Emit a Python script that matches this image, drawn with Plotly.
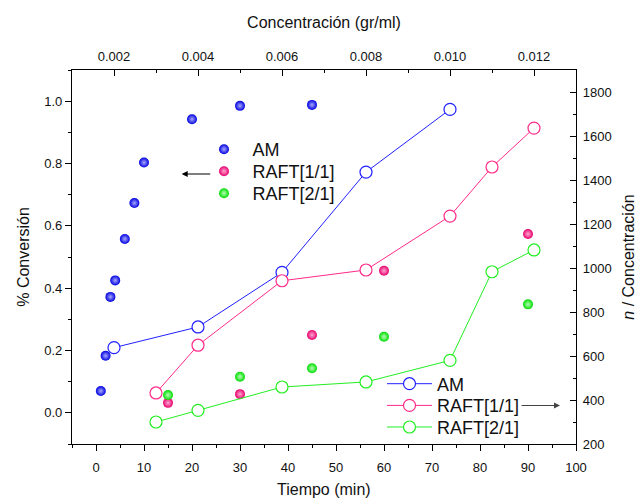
import plotly.graph_objects as go

# Conversion vs time (filled spheres, bottom / left axes)
t_am = [1, 2, 3, 4, 6, 8, 10, 20, 30, 45]
conv_am = [0.07, 0.183, 0.372, 0.425, 0.558, 0.673, 0.803, 0.942, 0.985, 0.988]
t_r11 = [15, 30, 45, 60, 90]
conv_r11 = [0.032, 0.060, 0.250, 0.456, 0.574]
t_r21 = [15, 30, 45, 60, 90]
conv_r21 = [0.057, 0.116, 0.143, 0.244, 0.348]

# n / concentration vs concentration (open circles, top / right axes)
c_am = [0.002, 0.004, 0.006, 0.008, 0.010]
n_am = [638, 732, 980, 1436, 1721]
c_r11 = [0.003, 0.004, 0.006, 0.008, 0.010, 0.011, 0.012]
n_r11 = [432, 649, 942, 991, 1236, 1459, 1636]
c_r21 = [0.003, 0.004, 0.006, 0.008, 0.010, 0.011, 0.012]
n_r21 = [300, 353, 459, 482, 580, 983, 1082]

names = ["AM", "RAFT[1/1]", "RAFT[2/1]"]
ball_colors = ["#0000e0", "#e8006e", "#00dc00"]
ball_lights = ["#a8a8ff", "#ffa8d0", "#b8ffb8"]
line_colors = ["#2020ff", "#ff2a8a", "#22ee22"]

FONT = "Liberation Sans, Arial, sans-serif"

# plot area in pixels, used to place legends, arrows and the time-axis title
PL, PR, PT, PB = 72, 576, 70, 444


def px_x(x):
    return (x - PL) / (PR - PL)


def px_y(y):
    return (PB - y) / (PB - PT)


fig = go.Figure()

# one single-entry legend per series so each row sits where it should
ball_rows = [149.5, 171.5, 193.5]
ring_rows = [384, 405.7, 427.3]
ball_keys = ["legend2", "legend3", "legend4"]
ring_keys = ["legend5", "legend6", "legend7"]

for key, name, tx, cv, col, light in zip(
    ball_keys, names, [t_am, t_r11, t_r21], [conv_am, conv_r11, conv_r21],
    ball_colors, ball_lights
):
    fig.add_trace(go.Scatter(
        x=tx, y=cv, mode="markers", name=name, legend=key,
        marker=dict(size=10, color=col, line=dict(width=0),
                    gradient=dict(type="radial", color=light)),
        xaxis="x", yaxis="y",
    ))

for key, name, cx, nv, col in zip(
    ring_keys, names, [c_am, c_r11, c_r21], [n_am, n_r11, n_r21], line_colors
):
    fig.add_trace(go.Scatter(
        x=cx, y=nv, mode="lines+markers", name=name, legend=key,
        line=dict(color=col, width=1),
        marker=dict(symbol="circle", size=12, color="white",
                    line=dict(color=col, width=1.2)),
        xaxis="x2", yaxis="y2",
    ))

axis_common = dict(
    showline=True, linecolor="black", linewidth=1.3, showgrid=False,
    zeroline=False, tickcolor="black", tickwidth=1.3, ticklen=6,
    automargin=False,
    tickfont=dict(family=FONT, size=13, color="#111"),
    title_font=dict(family=FONT, size=16, color="#111"),
)

legend_common = dict(
    xanchor="left", yanchor="middle", bgcolor="rgba(0,0,0,0)", borderwidth=0,
    font=dict(family=FONT, size=18, color="#111"),
)

legends = {}
for key, yrow in zip(ball_keys, ball_rows):
    legends[key] = dict(x=px_x(195.5), y=px_y(yrow), itemwidth=47, **legend_common)
for key, yrow in zip(ring_keys, ring_rows):
    legends[key] = dict(x=px_x(382), y=px_y(yrow), itemwidth=45, **legend_common)

fig.update_layout(
    width=637, height=502,
    margin=dict(l=PL, r=637 - PR, t=PT, b=502 - PB),
    paper_bgcolor="white", plot_bgcolor="white",
    font=dict(family=FONT, color="#111"),
    xaxis=dict(
        range=[-5, 100], tick0=0, dtick=10, ticks="outside", ticklabelstandoff=5,
        minor=dict(dtick=5, ticklen=3, ticks="outside", tickcolor="black", tickwidth=1.3),
        **axis_common,
    ),
    yaxis=dict(
        range=[-0.1, 1.1], tick0=0, dtick=0.2, tickformat=".1f", ticks="outside",
        minor=dict(dtick=0.1, ticklen=3, ticks="outside", tickcolor="black", tickwidth=1.3),
        title=dict(text="% Conversión", standoff=10),
        **axis_common,
    ),
    xaxis2=dict(
        range=[0.001, 0.013], tick0=0.002, dtick=0.002, tickformat=".3f",
        ticks="inside", side="top", overlaying="x", ticklabelstandoff=3,
        minor=dict(dtick=0.001, ticklen=3, ticks="inside", tickcolor="black", tickwidth=1.3),
        title=dict(text="Concentración (gr/ml)", standoff=16),
        **axis_common,
    ),
    yaxis2=dict(
        range=[200, 1900], tick0=200, dtick=200, ticks="inside",
        side="right", overlaying="y", ticklabelstandoff=3,
        minor=dict(dtick=100, ticklen=3, ticks="inside", tickcolor="black", tickwidth=1.3),
        title=dict(text="<i>n</i> / Concentración", standoff=13),
        **axis_common,
    ),
    **legends,
)

# Time-axis title
fig.add_annotation(
    x=0.5, y=px_y(489), xref="paper", yref="paper", text="Tiempo (min)",
    showarrow=False, xanchor="center", yanchor="middle",
    font=dict(family=FONT, size=16, color="#111"),
)

# Arrows pointing each legend to its axis
fig.add_annotation(
    x=px_x(181.7), y=px_y(174), xref="paper", yref="paper", text="", showarrow=True,
    arrowhead=2, arrowsize=1, arrowwidth=1.2, arrowcolor="black",
    ax=30, ay=0,
)
fig.add_annotation(
    x=px_x(560), y=px_y(405.5), xref="paper", yref="paper", text="", showarrow=True,
    arrowhead=2, arrowsize=1, arrowwidth=1.2, arrowcolor="#444",
    ax=-40, ay=0,
)

fig.write_html("out.html")
